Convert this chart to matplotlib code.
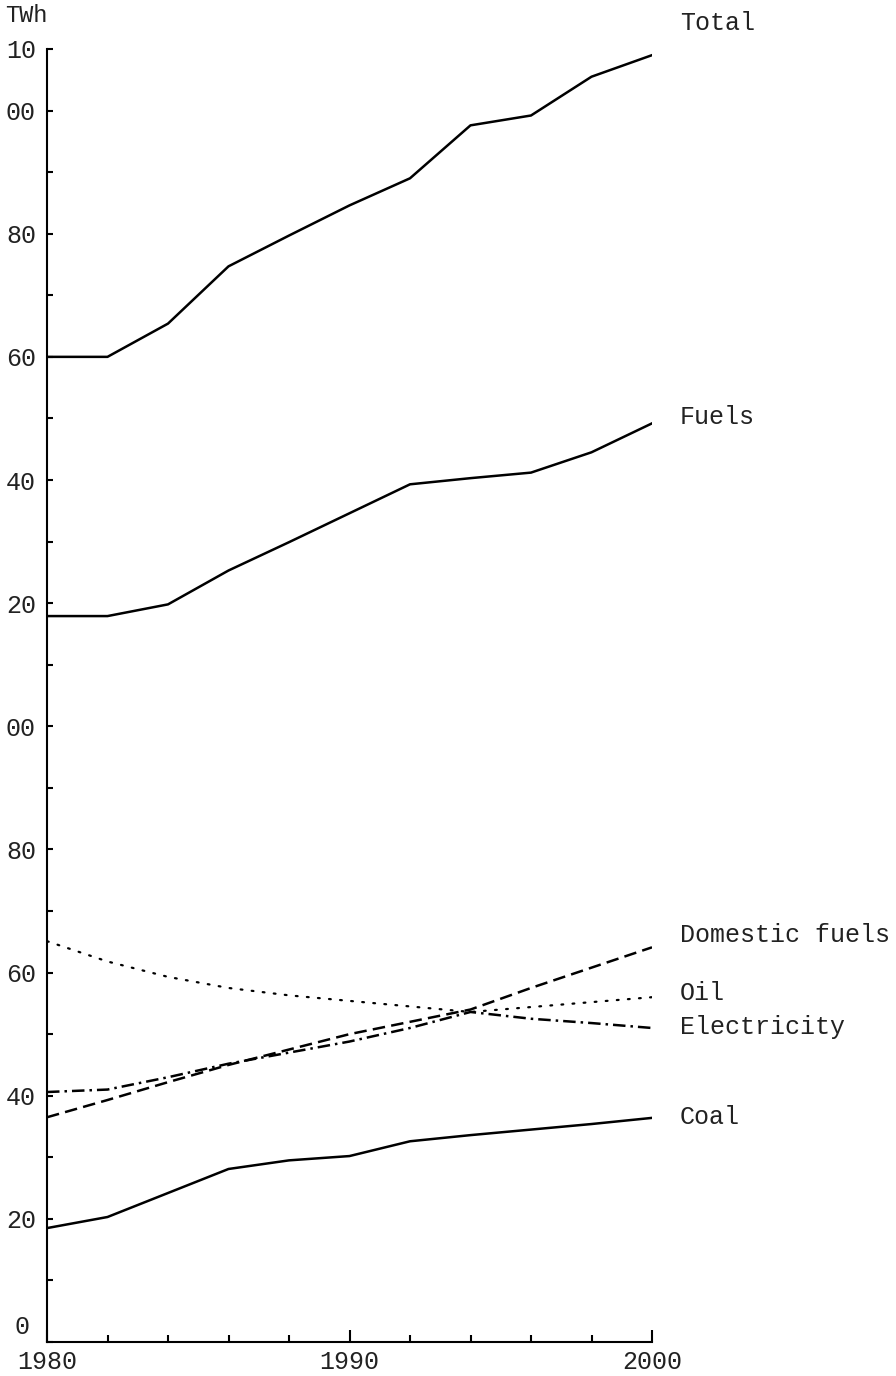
import matplotlib
matplotlib.use("Agg")
import matplotlib.pyplot as plt
from matplotlib.transforms import ScaledTranslation

years = [1980, 1982, 1984, 1986, 1988, 1990, 1992, 1994, 1996, 1998, 2000]
total = [160.0, 160.0, 165.4, 174.7, 179.7, 184.6, 189.0, 197.6, 199.2, 205.5, 209.0]
fuels = [117.9, 117.9, 119.8, 125.3, 129.9, 134.6, 139.3, 140.3, 141.2, 144.5, 149.2]
domestic = [36.5, 39.3, 42.2, 45.0, 47.5, 50.0, 52.0, 54.0, 57.5, 60.8, 64.1]
oil = [65.1, 61.8, 59.3, 57.5, 56.3, 55.4, 54.5, 53.6, 54.4, 55.2, 56.0]
electricity = [40.6, 41.0, 43.0, 45.2, 47.0, 48.8, 51.0, 53.6, 52.5, 51.8, 51.0]
coal = [18.5, 20.3, 24.2, 28.1, 29.5, 30.2, 32.6, 33.6, 34.5, 35.4, 36.4]

ytick_vals = [0, 20, 40, 60, 80, 100, 120, 140, 160, 180, 200, 210]
ytick_labels = ["0", "20", "40", "60", "80", "00", "20", "40", "60", "80", "00", "10"]
xtick_vals = [1980, 1990, 2000]
xtick_labels = ["1980", "1990", "2000"]
unit_label = "TWh"

FONT = "Liberation Mono"
plt.rcParams["font.family"] = [FONT, "DejaVu Sans"]
TXT = "#222222"

fig = plt.figure(figsize=(8.96, 13.76), dpi=100)
ax = fig.add_axes([47/896, 1 - 1342/1376, 605/896, (1342 - 49)/1376])

lw = 1.8
ax.plot(years, total, color="black", lw=lw)
ax.plot(years, fuels, color="black", lw=lw)
ax.plot(years, coal, color="black", lw=lw)
ax.plot(years, domestic, color="black", lw=lw, dashes=(5, 2.5))
ax.plot(years, oil, color="black", lw=1.6, dashes=(0.8, 4.2), dash_capstyle="round")
ax.plot(years, electricity, color="black", lw=lw, dashes=(5, 2, 1, 2))

ax.set_xlim(1980, 2000)
ax.set_ylim(0, 210)

for s in ["top", "right"]:
    ax.spines[s].set_visible(False)
for s in ["left", "bottom"]:
    ax.spines[s].set_linewidth(1.5)

ax.set_yticks(list(range(0, 211, 10)), minor=True)
ax.set_yticks(ytick_vals)
ax.set_yticklabels(ytick_labels)
ax.tick_params(axis="y", which="both", direction="in", length=4, width=1.5, pad=8,
               labelsize=18)
ax.set_xticks(list(range(1980, 2001, 2)), minor=True)
ax.set_xticks(xtick_vals)
ax.set_xticklabels(xtick_labels)
ax.tick_params(axis="x", which="major", direction="in", length=9, width=1.5, pad=6,
               labelsize=18)
ax.tick_params(axis="x", which="minor", direction="in", length=5, width=1.5)

for lab in ax.get_xticklabels() + ax.get_yticklabels():
    lab.set_family([FONT, "DejaVu Sans"])
    lab.set_color(TXT)

# raise the "0" label so it clears the year label below it
zero_lab = ax.get_yticklabels()[0]
zero_lab.set_transform(zero_lab.get_transform()
                       + ScaledTranslation(-0.06, 0.17, fig.dpi_scale_trans))

fig.text(5/896, 1 - 16/1376, unit_label, fontsize=17, family=[FONT], va="center",
         ha="left", color=TXT)

labels = [("Total", total, 32), ("Fuels", fuels, 6), ("Domestic fuels", domestic, 12),
          ("Oil", oil, 4), ("Electricity", electricity, 1), ("Coal", coal, 1)]
for name, series, dy in labels:
    ax.annotate(name, xy=(years[-1], series[-1]), xytext=(28, dy),
                textcoords="offset pixels", ha="left", va="center", fontsize=18,
                family=[FONT], color=TXT, annotation_clip=False)

fig.savefig("out.png", dpi=100)
